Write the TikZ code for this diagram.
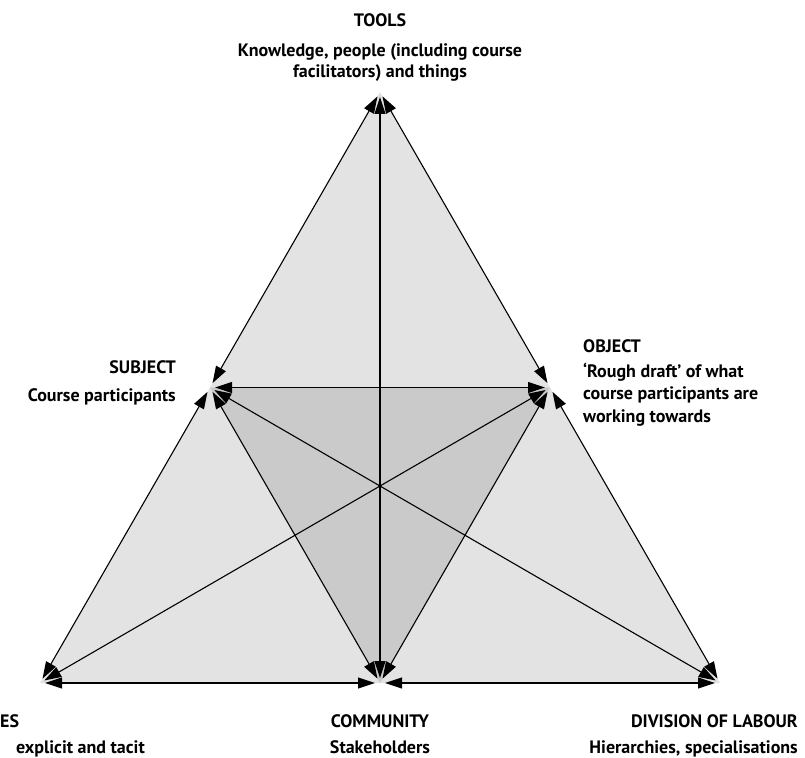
\documentclass[tikz,border=0pt]{standalone}
\usepackage{fontspec}
\setmainfont{PT Sans}
\usetikzlibrary{arrows.meta}
\definecolor{outerfill}{HTML}{E3E3E3}
\definecolor{innerfill}{HTML}{CACACA}
\tikzset{
  biarrow/.style={line width=1.1pt, draw=black,
    {Triangle[length=17pt,width=11pt]}-{Triangle[length=17pt,width=11pt]},
    shorten <=5pt, shorten >=5pt},
  lbl/.style={font=\fontsize{18}{22}\selectfont\bfseries, inner sep=0pt, text=black}
}
\begin{document}
\begin{tikzpicture}[x=1pt,y=-1pt]
\useasboundingbox (0,0) rectangle (805,757);
% vertices
\coordinate (T) at (380,92);
\coordinate (S) at (210,387.5);
\coordinate (O) at (550,387.5);
\coordinate (R) at (40,683);
\coordinate (C) at (380,683);
\coordinate (D) at (720,683);
% fills
\fill[outerfill] (T) -- (R) -- (D) -- cycle;
\fill[innerfill] (S) -- (O) -- (C) -- cycle;
% connectors
\draw[biarrow] (T) -- (S);
\draw[biarrow] (T) -- (O);
\draw[biarrow] (T) -- (C);
\draw[biarrow] (S) -- (O);
\draw[biarrow] (S) -- (R);
\draw[biarrow] (S) -- (C);
\draw[biarrow] (S) -- (D);
\draw[biarrow] (O) -- (D);
\draw[biarrow] (O) -- (C);
\draw[biarrow] (O) -- (R);
\draw[biarrow] (R) -- (C);
\draw[biarrow] (C) -- (D);
% labels
\node[lbl, anchor=base] (toolsT) at (380,27) {TOOLS};
\node[lbl, anchor=base] (toolsA) at (380,57) {Knowledge, people (including course};
\node[lbl, anchor=base] (toolsB) at (380,78) {facilitators) and things};
\node[lbl, anchor=base east] (subjT) at (176,373) {SUBJECT};
\node[lbl, anchor=base east] (subjA) at (176,401) {Course participants};
\node[lbl, anchor=base west] (objT) at (583,352) {OBJECT};
\node[lbl, anchor=base west] (objA) at (583,377) {‘Rough draft’ of what};
\node[lbl, anchor=base west] (objB) at (583,399.5) {course participants are};
\node[lbl, anchor=base west] (objC) at (583,422) {working towards};
\node[lbl, anchor=base west] (rulT) at (0,727) {ES};
\node[lbl, anchor=base east] (rulA) at (145,753) {explicit and tacit};
\node[lbl, anchor=base] (comT) at (380,727) {COMMUNITY};
\node[lbl, anchor=base] (comA) at (380,753) {Stakeholders};
\node[lbl, anchor=base east] (divT) at (798,727) {DIVISION OF LABOUR};
\node[lbl, anchor=base east] (divA) at (798,753) {Hierarchies, specialisations};
\end{tikzpicture}
\end{document}
